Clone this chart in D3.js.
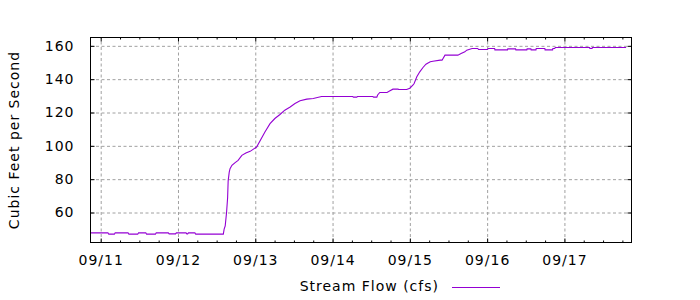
<!DOCTYPE html>
<html>
<head>
<meta charset="utf-8">
<script src="https://cdn.jsdelivr.net/npm/d3@7"></script>
<style>
    body { margin: 0; background: #fff; }
    text { font-family: "DejaVu Sans", sans-serif; font-size: 14px; letter-spacing: 1px; fill: #000; }
    .grid line { stroke: #a0a0a0; stroke-dasharray: 3,2.5; }
    .grid path { display: none; }
    .axis path { display: none; }
    .axis line { stroke: #000; }
</style>
</head>
<body>
<div id="chart-area"></div>
<script>
// readings taken off the gauge plot (time, cfs)
const times = [
    "09/10 20:50", "09/11 02:15", "09/11 02:30", "09/11 04:15", "09/11 04:30", "09/11 08:30",
    "09/11 08:45", "09/11 11:30", "09/11 11:45", "09/11 14:00", "09/11 14:15", "09/11 17:00",
    "09/11 17:15", "09/11 21:00", "09/11 21:15", "09/11 23:15", "09/11 23:30", "09/12 02:30",
    "09/12 02:45", "09/12 03:00", "09/12 03:15", "09/12 05:15", "09/12 05:30", "09/12 14:05",
    "09/12 14:20", "09/12 14:40", "09/12 15:05", "09/12 15:25", "09/12 15:35", "09/12 15:55",
    "09/12 16:10", "09/12 16:45", "09/12 17:45", "09/12 18:40", "09/12 19:50", "09/12 21:05",
    "09/12 22:25", "09/13 00:25", "09/13 03:00", "09/13 04:35", "09/13 06:05", "09/13 07:40",
    "09/13 09:10", "09/13 10:50", "09/13 12:20", "09/13 13:55", "09/13 16:00", "09/13 18:00",
    "09/13 20:35", "09/14 06:15", "09/14 06:30", "09/14 07:30", "09/14 07:45", "09/14 12:30",
    "09/14 12:45", "09/14 13:45", "09/14 14:00", "09/14 14:40", "09/14 16:55", "09/14 17:50",
    "09/14 18:45", "09/14 20:20", "09/14 20:35", "09/14 23:00", "09/15 00:00", "09/15 01:00",
    "09/15 01:20", "09/15 02:10", "09/15 03:05", "09/15 04:05", "09/15 05:00", "09/15 06:20",
    "09/15 07:10", "09/15 09:25", "09/15 10:00", "09/15 10:55", "09/15 14:55", "09/15 15:55",
    "09/15 17:05", "09/15 17:40", "09/15 19:20", "09/15 21:05", "09/15 21:20", "09/16 00:05",
    "09/16 00:20", "09/16 02:20", "09/16 02:25", "09/16 06:20", "09/16 06:25", "09/16 08:50",
    "09/16 08:55", "09/16 12:20", "09/16 12:25", "09/16 13:35", "09/16 13:40", "09/16 15:10",
    "09/16 15:15", "09/16 17:55", "09/16 18:00", "09/16 20:20", "09/16 20:25", "09/16 21:00",
    "09/16 21:10", "09/17 07:50", "09/17 07:55", "09/17 08:35", "09/17 08:40", "09/17 19:10"
];
const flows = [
    47.8, 47.8, 47.0, 47.0, 47.8, 47.8,
    47.0, 47.0, 47.8, 47.8, 47.0, 47.0,
    47.8, 47.8, 47.2, 47.2, 47.8, 47.8,
    47.2, 47.2, 47.8, 47.8, 47.0, 47.0,
    50, 52, 60, 69, 79, 84.2,
    86.3, 88.3, 89.9, 91.3, 94.3, 95.7,
    96.7, 99.3, 108.3, 113.3, 116.4, 118.8,
    121.4, 123.3, 125.4, 127, 128, 128.4,
    129.6, 129.6, 129.2, 129.2, 129.6, 129.6,
    129.2, 129.2, 130.5, 132, 132, 133,
    134, 134, 133.8, 133.8, 134.6, 136.5,
    137.4, 141.4, 144.4, 147, 149, 150.4,
    150.8, 151.4, 151.4, 154.4, 154.4, 155.4,
    156.4, 157.4, 158.4, 158.4, 157.8, 157.8,
    158.4, 158.4, 157.6, 157.6, 158.2, 158.2,
    157.6, 157.6, 158.2, 158.2, 157.6, 157.6,
    158.4, 158.4, 157.6, 157.6, 158.4, 158.4,
    159, 159, 158.4, 158.4, 159, 159
];

const xRange = ["09/10 20:50", "09/17 20:50"];
const dayTicks = ["09/11", "09/12", "09/13", "09/14", "09/15", "09/16", "09/17"];
const yDomain = [42, 165];
const flowTicks = [60, 80, 100, 120, 140, 160];

const seriesName = "Stream Flow (cfs)";
const yTitle = "Cubic Feet per Second";


/* Constructor */
FlowChart = function(_parentElement){
    this.parentElement = _parentElement;
    this.initVis();
};

FlowChart.prototype.initVis = function(){
    const vis = this;

    vis.margin = { left:90.5, right:68.5, top:37.5, bottom:57.5 };
    vis.width  = 700 - vis.margin.left - vis.margin.right;
    vis.height = 300 - vis.margin.top  - vis.margin.bottom;

    vis.svg = d3.select(vis.parentElement)
        .append("svg")
        .attr("width", 700)
        .attr("height", 300);

    vis.g = vis.svg.append("g")
        .attr("transform", `translate(${vis.margin.left}, ${vis.margin.top})`);

    const parseTime = d3.timeParse("%m/%d %H:%M");
    vis.data = times.map((t, i) => ({ time: parseTime(t), flow: flows[i] }));
    vis.days = dayTicks.map(d => parseTime(d + " 00:00"));

    /* Scales */
    vis.xScale = d3.scaleTime()
        .domain(xRange.map(parseTime))
        .range([0, vis.width]);

    vis.yScale = d3.scaleLinear()
        .domain(yDomain)
        .range([vis.height, 0]);

    vis.updateVis();
};

FlowChart.prototype.updateVis = function(){
    const vis = this;

    /* Grid */
    vis.g.append("g")
        .attr("class", "grid")
        .attr("transform", `translate(0,${vis.height})`)
        .call(d3.axisBottom(vis.xScale).tickValues(vis.days).tickSize(-vis.height).tickFormat(""));

    vis.g.append("g")
        .attr("class", "grid")
        .call(d3.axisLeft(vis.yScale).tickValues(flowTicks).tickSize(-vis.width).tickFormat(""));

    /* Line */
    const line = d3.line()
        .x(d => vis.xScale(d.time))
        .y(d => vis.yScale(d.flow));

    vis.g.append("path")
        .datum(vis.data)
        .attr("fill", "none")
        .attr("stroke", "#9400d3")
        .attr("stroke-width", 1.1)
        .attr("d", line);

    /* Axes, ticks pointing in */
    const minor = d3.timeHour.every(6).range(...vis.xScale.domain())
        .filter(d => d.getHours() !== 0);

    vis.g.append("g")
        .attr("class", "axis")
        .attr("transform", `translate(0,${vis.height})`)
        .call(d3.axisBottom(vis.xScale).tickValues(vis.days).tickSize(-4).tickPadding(13)
            .tickFormat(d3.timeFormat("%m/%d")));

    vis.g.append("g")
        .attr("class", "axis")
        .attr("transform", `translate(0,${vis.height})`)
        .call(d3.axisBottom(vis.xScale).tickValues(minor).tickSize(-2).tickFormat(""));

    vis.g.append("g")
        .attr("class", "axis")
        .call(d3.axisTop(vis.xScale).tickValues(vis.days).tickSize(-4).tickFormat(""));

    vis.g.append("g")
        .attr("class", "axis")
        .call(d3.axisTop(vis.xScale).tickValues(minor).tickSize(-2).tickFormat(""));

    vis.g.append("g")
        .attr("class", "axis")
        .call(d3.axisLeft(vis.yScale).tickValues(flowTicks).tickSize(-4).tickPadding(16));

    vis.g.append("g")
        .attr("class", "axis")
        .attr("transform", `translate(${vis.width},0)`)
        .call(d3.axisRight(vis.yScale).tickValues(flowTicks).tickSize(-4).tickFormat(""));

    vis.g.selectAll(".axis text")
        .attr("font-family", null)
        .attr("font-size", null)
        .attr("fill", "#000");

    /* Border */
    vis.g.append("rect")
        .attr("width", vis.width)
        .attr("height", vis.height)
        .attr("fill", "none")
        .attr("stroke", "#000");

    /* Y title */
    vis.svg.append("text")
        .attr("transform", `translate(18.5, ${vis.margin.top + vis.height / 2}) rotate(-90)`)
        .attr("text-anchor", "middle")
        .text(yTitle);

    /* Legend */
    vis.svg.append("text")
        .attr("x", 439)
        .attr("y", 290.5)
        .attr("text-anchor", "end")
        .text(seriesName);

    vis.svg.append("line")
        .attr("x1", 452).attr("x2", 500)
        .attr("y1", 287.5).attr("y2", 287.5)
        .attr("stroke", "#9400d3")
        .attr("stroke-width", 1.1);
};

new FlowChart("#chart-area");
</script>
</body>
</html>
